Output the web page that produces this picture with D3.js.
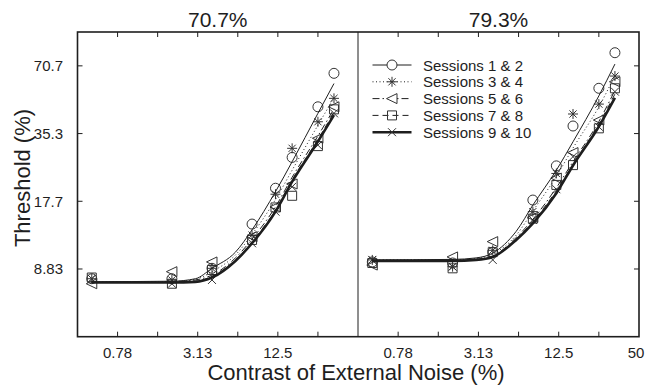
<!DOCTYPE html>
<html>
<head>
<meta charset="utf-8">
<script src="https://cdn.jsdelivr.net/npm/d3@7"></script>
<style>
  body { margin: 0; background: #fff; }
  svg { display: block; font-family: "Liberation Sans", Arial, sans-serif; }
</style>
</head>
<body>
<svg id="chart" width="645" height="389"></svg>
<script>
// external noise contrast (%), zero noise is drawn at 0.5
const noise = [0.5, 2, 4, 8, 12, 16, 25, 33];
const fitNoise = [0.5, 2, 3, 4, 6, 8, 12, 16, 25, 33];

const panels = ["70.7%", "79.3%"];
const sessions = ["Sessions 1 & 2", "Sessions 3 & 4", "Sessions 5 & 6", "Sessions 7 & 8", "Sessions 9 & 10"];

// thresholds (%), 70.7% panel
const thr70_s12 = [8.0, 8.0, 8.9, 14.0, 20.2, 27.7, 46.5, 65.5];
const thr70_s34 = [8.0, 7.9, 8.9, 12.5, 19.0, 30.4, 39.9, 50.7];
const thr70_s56 = [7.6, 8.6, 9.5, 12.3, 16.7, 21.1, 33.7, 46.5];
const thr70_s78 = [8.1, 7.6, 8.75, 11.9, 16.6, 18.7, 31.1, 45.3];
const thr70_s910 = [8.0, 7.6, 7.9, 11.5, 15.9, 20.5, 31.4, 43.5];

// thresholds (%), 79.3% panel
const thr79_s12 = [9.5, 9.4, 10.5, 17.9, 25.4, 38.2, 56.2, 80.9];
const thr79_s34 = [9.7, 9.05, 10.7, 15.9, 23.5, 43.2, 47.8, 63.7];
const thr79_s56 = [9.2, 10.0, 11.7, 15.0, 22.4, 29.1, 40.6, 60.1];
const thr79_s78 = [9.4, 8.9, 10.5, 14.8, 20.9, 25.6, 37.3, 56.2];
const thr79_s910 = [9.7, 9.05, 9.7, 14.6, 20.0, 27.9, 37.9, 54.3];

// fitted curves read at fitNoise, 70.7% panel
const fit70_s12 = [7.76, 7.8, 8.0, 8.9, 10.5, 13.2, 19.5, 26.5, 43.5, 59];
const fit70_s34 = [7.75, 7.78, 7.95, 8.6, 10.2, 12.6, 18.0, 24.3, 38.5, 51];
const fit70_s56 = [7.7, 7.75, 7.9, 8.3, 9.9, 12.0, 16.7, 22.6, 34.5, 45.5];
const fit70_s78 = [7.7, 7.72, 7.8, 8.2, 9.7, 11.7, 16.2, 22.0, 33.3, 44];
const fit70_s910 = [7.7, 7.7, 7.75, 8.1, 9.6, 11.5, 15.9, 21.6, 32.6, 42.7];

// fitted curves read at fitNoise, 79.3% panel
const fit79_s12 = [9.7, 9.75, 9.9, 10.4, 13.0, 17.0, 24.3, 32.5, 52, 72];
const fit79_s34 = [9.7, 9.7, 9.85, 10.3, 12.5, 16.0, 22.8, 30.5, 46.5, 64];
const fit79_s56 = [9.65, 9.65, 9.75, 10.1, 12.2, 14.7, 20.3, 26.5, 40, 55];
const fit79_s78 = [9.6, 9.6, 9.7, 10.05, 12.0, 14.4, 19.7, 25.8, 39, 53];
const fit79_s910 = [9.6, 9.6, 9.7, 10.0, 11.9, 14.1, 19.2, 25.5, 38, 51];

const xTicks = [0.78125, 1.5625, 3.125, 6.25, 12.5, 25];
const xLabels = ["0.78", "3.13", "12.5", "50"];
const xLabelVals = [0.78125, 3.125, 12.5, 50];
const yTicks = [8.8388, 17.6777, 35.3553, 70.7107];
const yLabels = ["8.83", "17.7", "35.3", "70.7"];

const thr = [[thr70_s12, thr70_s34, thr70_s56, thr70_s78, thr70_s910],
             [thr79_s12, thr79_s34, thr79_s56, thr79_s78, thr79_s910]];
const fits = [[fit70_s12, fit70_s34, fit70_s56, fit70_s78, fit70_s910],
              [fit79_s12, fit79_s34, fit79_s56, fit79_s78, fit79_s910]];

const ink = "#1e1e1e";
const lineStyles = [
  { w: 1, dash: null },
  { w: 1, dash: "1,2.5" },
  { w: 1, dash: "7,3,1.5,3" },
  { w: 1, dash: "6,4" },
  { w: 2.6, dash: null }
];

// marker shapes, centred on 0,0
const markers = [
  "M5,0A5,5 0 1,1 -5,0A5,5 0 1,1 5,0Z",
  "M-5,0H5M0,-5V5M-3.6,-3.6L3.6,3.6M-3.6,3.6L3.6,-3.6",
  "M-5.5,0L5,-5L5,5Z",
  "M-4.5,-4.5H4.5V4.5H-4.5Z",
  "M-4,-4L4,4M-4,4L4,-4"
];

const svg = d3.select("#chart");
const plotTop = 32, plotBottom = 336.7;
const edges = [77.5, 358, 639];

const y = d3.scaleLog().base(2).domain([100 / Math.pow(2, 4.5), 100]).range([plotBottom, plotTop]);

panels.forEach((title, p) => {
  const x = d3.scaleLog().base(2).domain([50 / 128, 50]).range([edges[p], edges[p + 1]]);
  const g = svg.append("g");

  // ticks top and bottom, pointing inward
  xTicks.forEach(t => {
    g.append("line").attr("x1", x(t)).attr("x2", x(t)).attr("y1", plotTop).attr("y2", plotTop + 5)
      .attr("stroke", ink).attr("stroke-width", 1);
    g.append("line").attr("x1", x(t)).attr("x2", x(t)).attr("y1", plotBottom).attr("y2", plotBottom - 5)
      .attr("stroke", ink).attr("stroke-width", 1);
  });
  const nLab = p === 0 ? 3 : 4;
  xLabels.slice(0, nLab).forEach((l, i) => {
    // last label sits at the right edge of the figure
    const lx = i === 3 ? x(xLabelVals[i]) - 3 : x(xLabelVals[i]);
    g.append("text").attr("x", lx).attr("y", 357.5)
      .attr("text-anchor", "middle").attr("font-size", 15).attr("fill", ink).text(l);
  });

  // y ticks: left frame of first panel, right frame of second
  yTicks.forEach(t => {
    const x0 = p === 0 ? edges[0] : edges[2];
    const x1 = p === 0 ? x0 + 5 : x0 - 5;
    g.append("line").attr("x1", x0).attr("x2", x1).attr("y1", y(t)).attr("y2", y(t))
      .attr("stroke", ink);
  });

  g.append("text").attr("x", (edges[p] + edges[p + 1]) / 2).attr("y", 27)
    .attr("text-anchor", "middle").attr("font-size", 21).attr("fill", ink).text(title);

  const line = d3.line()
    .x((d, i) => x(fitNoise[i]))
    .y(d => y(d))
    .curve(d3.curveMonotoneX);

  thr[p].forEach((series, s) => {
    g.selectAll(null).data(series).enter().append("path")
      .attr("d", markers[s])
      .attr("transform", (d, i) => `translate(${x(noise[i])},${y(d)})`)
      .attr("fill", "none").attr("stroke", "#333").attr("stroke-width", 1);
  });

  fits[p].forEach((series, s) => {
    g.append("path").datum(series).attr("d", line)
      .attr("fill", "none").attr("stroke", ink)
      .attr("stroke-width", lineStyles[s].w)
      .attr("stroke-dasharray", lineStyles[s].dash);
  });
});

// frame
svg.append("line").attr("x1", edges[1]).attr("x2", edges[1]).attr("y1", plotTop).attr("y2", plotBottom)
  .attr("stroke", ink).attr("stroke-width", 1);
svg.append("rect").attr("x", edges[0]).attr("y", plotTop)
  .attr("width", edges[2] - edges[0]).attr("height", plotBottom - plotTop)
  .attr("fill", "none").attr("stroke", ink).attr("stroke-width", 1.6);

// y tick labels
yTicks.forEach((t, i) => {
  svg.append("text").attr("x", 63).attr("y", y(t) + 5.5)
    .attr("text-anchor", "end").attr("font-size", 15).attr("fill", ink).text(yLabels[i]);
});

// legend in right panel
const leg = svg.append("g");
sessions.forEach((name, s) => {
  const ly = 65 + s * 16.8;
  leg.append("line").attr("x1", 372.5).attr("x2", 411.5).attr("y1", ly).attr("y2", ly)
    .attr("stroke", ink).attr("stroke-width", lineStyles[s].w)
    .attr("stroke-dasharray", lineStyles[s].dash);
  leg.append("path").attr("d", markers[s]).attr("transform", `translate(392,${ly})`)
    .attr("fill", s === 0 || s === 2 ? "#fff" : "none").attr("stroke", "#333");
  leg.append("text").attr("x", 423).attr("y", ly + 5.5)
    .attr("font-size", 15).attr("fill", ink).text(name);
});

svg.append("text").attr("x", 356).attr("y", 380).attr("text-anchor", "middle")
  .attr("font-size", 22).attr("fill", ink).text("Contrast of External Noise (%)");
svg.append("text").attr("transform", "translate(30,178) rotate(-90)").attr("text-anchor", "middle")
  .attr("font-size", 22).attr("fill", ink).text("Threshold (%)");
</script>
</body>
</html>
